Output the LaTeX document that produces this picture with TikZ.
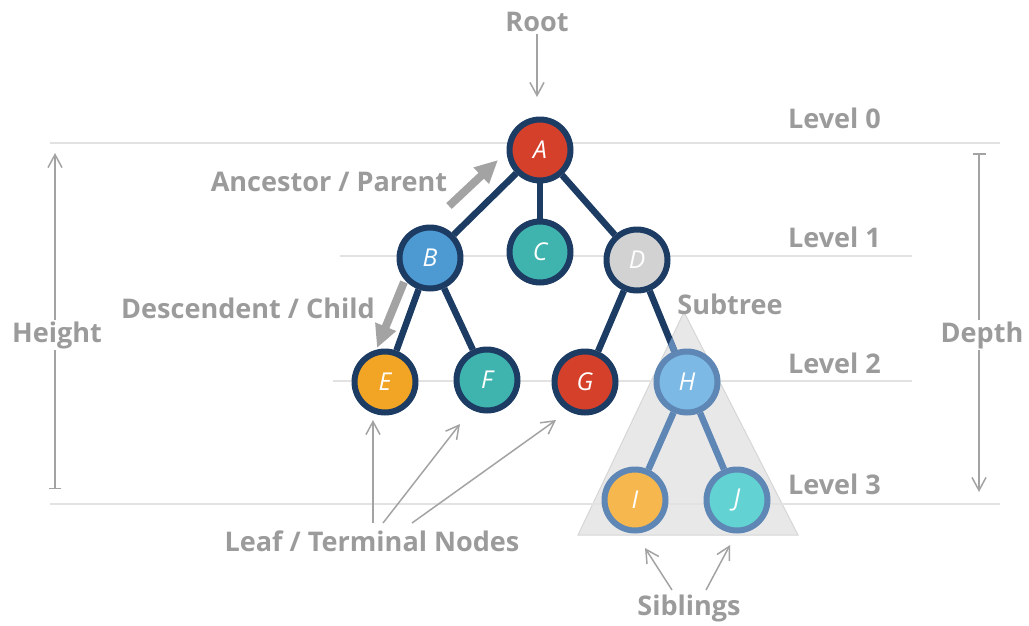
\documentclass[tikz,border=0pt]{standalone}
\usepackage{fontspec}
\setmainfont{Open Sans}
\usetikzlibrary{arrows.meta}
\definecolor{navy}{HTML}{1D3C63}
\definecolor{subc}{HTML}{5E87B5}
\definecolor{capt}{HTML}{9B9B9B}
\definecolor{rule}{HTML}{E2E2E2}
\definecolor{arrc}{HTML}{A3A3A3}
\definecolor{tri}{HTML}{E8E8E8}
\definecolor{trib}{HTML}{D6D6D6}
\definecolor{red}{HTML}{D5402B}
\definecolor{blu}{HTML}{4D9AD3}
\definecolor{teal}{HTML}{3FB4AE}
\definecolor{grey}{HTML}{D2D2D2}
\definecolor{orng}{HTML}{F2A425}
\definecolor{lblu}{HTML}{7CB9E4}
\definecolor{lorg}{HTML}{F6B84E}
\definecolor{ltea}{HTML}{62D3D2}

\begin{document}
\begin{tikzpicture}[x=0.02cm, y=-0.02cm,
    nd/.style={circle, draw=navy, line width=0.12cm, minimum size=1.22cm, inner sep=0pt, text=white, font=\fontsize{14}{14}\selectfont\itshape},
    sb/.style={draw=subc},
    ed/.style={draw=navy, line width=0.13cm},
    lvl/.style={draw=rule, line width=0.05cm},
    lbl/.style={text=capt, font=\fontsize{15.4}{18}\selectfont\bfseries, inner sep=1pt},
    thin/.style={draw=arrc, line width=0.03cm, -{Straight Barb[length=0.26cm, width=0.28cm]}},
    fat/.style={draw=arrc, line width=0.16cm, -{Triangle[length=0.46cm, width=0.42cm]}}]

  \useasboundingbox (0,0) rectangle (1029,626);

  % ── subtree shade ──
  \coordinate (st) at (684,312);
  \coordinate (sl) at (578,535);
  \coordinate (sr) at (798,535);
  \fill[tri] (st) -- (sl) -- (sr) -- cycle;
  \draw[trib, line width=0.02cm] (st) -- (sl) -- (sr) -- cycle;

  % ── level rules ──
  \draw[lvl] (50,143) -- (1000,143);
  \draw[lvl] (340,256) -- (912,256);
  \draw[lvl] (333,381) -- (912,381);
  \draw[lvl] (50,504) -- (1000,504);
  \node[lbl, anchor=west] (l0) at (786,118) {Level 0};
  \node[lbl, anchor=west] (l1) at (786,237) {Level 1};
  \node[lbl, anchor=west] (l2) at (786,363) {Level 2};
  \node[lbl, anchor=west] (l3) at (786,484) {Level 3};

  % ── tree ──
  \node[nd, fill=red]  (A) at (540,150) {A};
  \node[nd, fill=blu]  (B) at (430,258) {B};
  \node[nd, fill=teal] (C) at (540,252) {C};
  \node[nd, fill=grey] (D) at (637,260) {D};
  \node[nd, fill=orng] (E) at (385,382) {E};
  \node[nd, fill=teal] (F) at (487,380) {F};
  \node[nd, fill=red]  (G) at (585,382) {G};
  \node[nd, sb, fill=lblu] (H) at (687,382) {H};
  \node[nd, sb, fill=lorg] (I) at (635,500) {I};
  \node[nd, sb, fill=ltea] (J) at (737,500) {J};
  \draw[ed] (A)--(B); \draw[ed] (A)--(C); \draw[ed] (A)--(D);
  \draw[ed] (B)--(E); \draw[ed] (B)--(F);
  \draw[ed] (D)--(G); \draw[ed] (D)--(H);
  \draw[ed, sb] (H)--(I); \draw[ed, sb] (H)--(J);
  \begin{scope}
    \clip (st) -- (sl) -- (sr) -- cycle;
    \draw[ed, sb] (D)--(H);
  \end{scope}

  % ── captions and pointers ──
  \node[lbl] (root) at (537,22) {Root};
  \coordinate (rt) at (537,97);
  \draw[thin] (root) -- (rt);

  \node[lbl] (anc) at (329,182) {Ancestor / Parent};
  \coordinate (a0) at (449,206);
  \coordinate (a1) at (498,160);
  \draw[fat] (a0) -- (a1);

  \node[lbl] (des) at (248,308) {Descendent / Child};
  \coordinate (d0) at (404,282);
  \coordinate (d1) at (377,348);
  \draw[fat] (d0) -- (d1);

  \node[lbl] (sub) at (730,304) {Subtree};

  \coordinate (h0) at (55,489);
  \coordinate (h1) at (55,153);
  \draw[thin, {Bar[width=0.26cm]}-{Straight Barb[length=0.26cm, width=0.28cm]}] (h0) -- (h1);
  \node[lbl, fill=white] (hgt) at (57,335) {Height};

  \coordinate (p0) at (979,153);
  \coordinate (p1) at (979,492);
  \draw[thin, {Bar[width=0.26cm]}-{Straight Barb[length=0.26cm, width=0.28cm]}] (p0) -- (p1);
  \node[lbl, fill=white] (dep) at (982,335) {Depth};

  \node[lbl] (leaf) at (372,541) {Leaf / Terminal Nodes};
  \coordinate (f0) at (373,523); \coordinate (f1) at (373,420);
  \coordinate (f2) at (383,523); \coordinate (f3) at (460,424);
  \coordinate (f4) at (412,523); \coordinate (f5) at (556,420);
  \draw[thin] (f0) -- (f1);
  \draw[thin] (f2) -- (f3);
  \draw[thin] (f4) -- (f5);

  \node[lbl] (sib) at (689,608) {Siblings};
  \coordinate (s0) at (672,590); \coordinate (s1) at (645,548);
  \coordinate (s2) at (706,590); \coordinate (s3) at (730,545);
  \draw[thin] (s0) -- (s1);
  \draw[thin] (s2) -- (s3);
\end{tikzpicture}
\end{document}
